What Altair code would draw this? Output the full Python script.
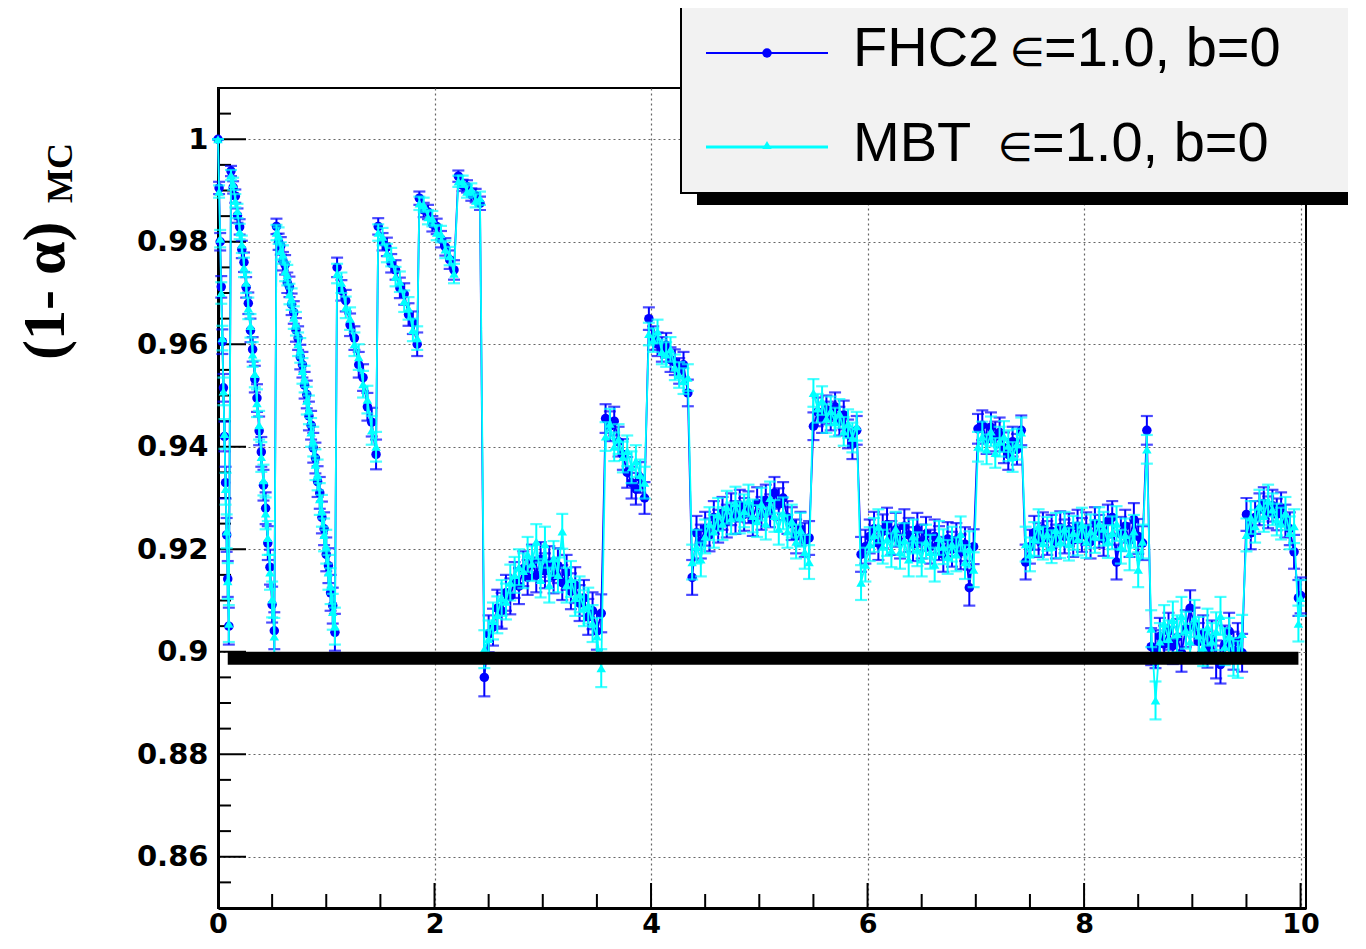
import altair as alt
import pandas as pd

# ---------------- data ----------------
# true signal mean (x), one row per MC point
s_true = [
    0.00, 0.01, 0.02, 0.03, 0.04, 0.05, 0.06, 0.07, 0.08, 0.09, 0.10,
    0.12, 0.14, 0.16, 0.18, 0.20, 0.22, 0.24, 0.26, 0.28, 0.30, 0.32, 0.34, 0.36, 0.38, 0.40, 0.42, 0.44, 0.46, 0.48, 0.50, 0.52,
    0.54, 0.56, 0.58, 0.60, 0.62, 0.64, 0.66, 0.68, 0.70, 0.72, 0.74, 0.76, 0.78, 0.80, 0.82, 0.84, 0.86, 0.88, 0.90, 0.92, 0.94, 0.96, 0.98, 1.00, 1.02, 1.04, 1.06, 1.08,
    1.10, 1.14, 1.18, 1.22, 1.26, 1.30, 1.34, 1.38, 1.42, 1.46,
    1.48, 1.52, 1.56, 1.60, 1.64, 1.68, 1.72, 1.76, 1.80, 1.84,
    1.86, 1.90, 1.94, 1.98, 2.02, 2.06, 2.10, 2.14, 2.18,
    2.22, 2.26, 2.30, 2.34, 2.38, 2.42,
    2.46, 2.50, 2.54, 2.58, 2.62, 2.66, 2.70, 2.74, 2.78, 2.82, 2.86, 2.90, 2.94, 2.98, 3.02, 3.06, 3.10, 3.14, 3.18, 3.22, 3.26, 3.30, 3.34, 3.38, 3.42, 3.46, 3.50, 3.54,
    3.58, 3.62, 3.66, 3.70, 3.74, 3.78, 3.82, 3.86, 3.90, 3.94,
    3.98, 4.02, 4.06, 4.10, 4.14, 4.18, 4.22, 4.26, 4.30, 4.34,
    4.38, 4.42, 4.46, 4.50, 4.54, 4.58, 4.62, 4.66, 4.70, 4.74, 4.78, 4.82, 4.86, 4.90, 4.94, 4.98, 5.02, 5.06, 5.10, 5.14, 5.18, 5.22, 5.26, 5.30, 5.34, 5.38, 5.42, 5.46,
    5.50, 5.54, 5.58, 5.62, 5.66, 5.70, 5.74, 5.78, 5.82, 5.86, 5.90,
    5.94, 5.98, 6.02, 6.06, 6.10, 6.14, 6.18, 6.22, 6.26, 6.30, 6.34, 6.38, 6.42, 6.46, 6.50, 6.54, 6.58, 6.62, 6.66, 6.70, 6.74, 6.78, 6.82, 6.86, 6.90, 6.94, 6.98,
    7.02, 7.06, 7.10, 7.14, 7.18, 7.22, 7.26, 7.30, 7.34, 7.38, 7.42,
    7.46, 7.50, 7.54, 7.58, 7.62, 7.66, 7.70, 7.74, 7.78, 7.82, 7.86, 7.90, 7.94, 7.98, 8.02, 8.06, 8.10, 8.14, 8.18, 8.22, 8.26, 8.30, 8.34, 8.38, 8.42, 8.46, 8.50, 8.54,
    8.58,
    8.62, 8.66, 8.70, 8.74, 8.78, 8.82, 8.86, 8.90, 8.94, 8.98, 9.02, 9.06, 9.10, 9.14, 9.18, 9.22, 9.26, 9.30, 9.34, 9.38, 9.42, 9.46,
    9.50, 9.54, 9.58, 9.62, 9.66, 9.70, 9.74, 9.78, 9.82, 9.86, 9.90, 9.94,
    9.98, 10.00,
]

# (1-alpha)_MC for FHC2
fhc2 = [
    1.0000, 0.9905, 0.9800, 0.9712, 0.9605, 0.9515, 0.9420, 0.9330, 0.9228, 0.9142, 0.9050,
    0.9938, 0.9906, 0.9889, 0.9851, 0.9829, 0.9785, 0.9760, 0.9711, 0.9680, 0.9627, 0.9590, 0.9532, 0.9495, 0.9431, 0.9390, 0.9325, 0.9280, 0.9212, 0.9165, 0.9092, 0.9041,
    0.9830, 0.9800, 0.9792, 0.9762, 0.9755, 0.9720, 0.9712, 0.9678, 0.9662, 0.9628, 0.9612, 0.9575, 0.9560, 0.9520, 0.9502, 0.9460, 0.9442, 0.9398, 0.9378, 0.9332, 0.9310, 0.9262, 0.9240, 0.9190, 0.9168, 0.9115, 0.9090, 0.9038,
    0.9750, 0.9705, 0.9685, 0.9638, 0.9612, 0.9560, 0.9535, 0.9478, 0.9448, 0.9385,
    0.9830, 0.9800, 0.9790, 0.9758, 0.9745, 0.9710, 0.9698, 0.9658, 0.9642, 0.9600,
    0.9885, 0.9862, 0.9858, 0.9835, 0.9830, 0.9805, 0.9790, 0.9765, 0.9745,
    0.9928, 0.9910, 0.9908, 0.9892, 0.9890, 0.9875,
    0.8950, 0.9035, 0.9048, 0.9085, 0.9080, 0.9115, 0.9108, 0.9140, 0.9128, 0.9162, 0.9145, 0.9175, 0.9150, 0.9180, 0.9158, 0.9172, 0.9148, 0.9168, 0.9135, 0.9155, 0.9118, 0.9130, 0.9095, 0.9105, 0.9068, 0.9080, 0.9040, 0.9075,
    0.9455, 0.9440, 0.9450, 0.9410, 0.9385, 0.9350, 0.9330, 0.9318, 0.9340, 0.9300,
    0.9650, 0.9612, 0.9600, 0.9590, 0.9598, 0.9570, 0.9565, 0.9548, 0.9560, 0.9505,
    0.9145, 0.9232, 0.9215, 0.9240, 0.9228, 0.9262, 0.9245, 0.9270, 0.9255, 0.9278, 0.9262, 0.9285, 0.9268, 0.9282, 0.9258, 0.9290, 0.9270, 0.9295, 0.9275, 0.9310, 0.9288, 0.9300, 0.9262, 0.9250, 0.9225, 0.9240, 0.9218, 0.9222,
    0.9440, 0.9468, 0.9455, 0.9472, 0.9460, 0.9478, 0.9450, 0.9462, 0.9425, 0.9405, 0.9432,
    0.9190, 0.9205, 0.9225, 0.9240, 0.9212, 0.9235, 0.9248, 0.9222, 0.9238, 0.9215, 0.9245, 0.9228, 0.9210, 0.9238, 0.9215, 0.9230, 0.9205, 0.9225, 0.9212, 0.9190, 0.9220, 0.9200, 0.9218, 0.9195, 0.9210, 0.9125, 0.9205,
    0.9435, 0.9442, 0.9415, 0.9438, 0.9420, 0.9428, 0.9398, 0.9385, 0.9410, 0.9395, 0.9432,
    0.9175, 0.9205, 0.9232, 0.9218, 0.9240, 0.9222, 0.9235, 0.9215, 0.9242, 0.9225, 0.9238, 0.9218, 0.9245, 0.9228, 0.9240, 0.9215, 0.9250, 0.9235, 0.9220, 0.9255, 0.9262, 0.9175, 0.9230, 0.9245, 0.9218, 0.9258, 0.9225, 0.9212,
    0.9432,
    0.9010, 0.9005, 0.9030, 0.9015, 0.9040, 0.9012, 0.9028, 0.8998, 0.9045, 0.9085, 0.9050, 0.9020, 0.9035, 0.9005, 0.9025, 0.8985, 0.8975, 0.9015, 0.9040, 0.9002, 0.9020, 0.8998,
    0.9268, 0.9232, 0.9262, 0.9278, 0.9290, 0.9272, 0.9285, 0.9268, 0.9280, 0.9255, 0.9240, 0.9195,
    0.9105, 0.9110,
]

# (1-alpha)_MC for MBT
mbt = [
    1.0000, 0.9898, 0.9806, 0.9700, 0.9612, 0.9508, 0.9425, 0.9318, 0.9235, 0.9138, 0.9055,
    0.9930, 0.9913, 0.9880, 0.9860, 0.9820, 0.9795, 0.9750, 0.9720, 0.9670, 0.9636, 0.9580, 0.9542, 0.9485, 0.9442, 0.9380, 0.9335, 0.9270, 0.9222, 0.9155, 0.9102, 0.9030,
    0.9818, 0.9812, 0.9782, 0.9775, 0.9742, 0.9735, 0.9698, 0.9688, 0.9652, 0.9640, 0.9600, 0.9588, 0.9548, 0.9532, 0.9490, 0.9472, 0.9428, 0.9410, 0.9365, 0.9345, 0.9298, 0.9275, 0.9228, 0.9205, 0.9155, 0.9128, 0.9078, 0.9050,
    0.9738, 0.9720, 0.9672, 0.9650, 0.9600, 0.9575, 0.9522, 0.9492, 0.9432, 0.9400,
    0.9818, 0.9810, 0.9778, 0.9770, 0.9732, 0.9722, 0.9684, 0.9670, 0.9628, 0.9612,
    0.9875, 0.9872, 0.9848, 0.9845, 0.9818, 0.9815, 0.9785, 0.9772, 0.9738,
    0.9918, 0.9918, 0.9898, 0.9902, 0.9880, 0.9885,
    0.9005, 0.9025, 0.9060, 0.9072, 0.9105, 0.9098, 0.9135, 0.9150, 0.9165, 0.9158, 0.9190, 0.9172, 0.9215, 0.9140, 0.9210, 0.9130, 0.9182, 0.9150, 0.9235, 0.9130, 0.9142, 0.9105, 0.9112, 0.9085, 0.9090, 0.9055, 0.9030, 0.8968,
    0.9420, 0.9445, 0.9400, 0.9415, 0.9380, 0.9392, 0.9360, 0.9372, 0.9345, 0.9330,
    0.9620, 0.9608, 0.9625, 0.9585, 0.9580, 0.9590, 0.9555, 0.9540, 0.9528, 0.9535,
    0.9175, 0.9205, 0.9180, 0.9225, 0.9250, 0.9235, 0.9268, 0.9250, 0.9282, 0.9260, 0.9290, 0.9262, 0.9275, 0.9295, 0.9265, 0.9255, 0.9288, 0.9250, 0.9300, 0.9265, 0.9240, 0.9270, 0.9235, 0.9255, 0.9215, 0.9238, 0.9195, 0.9175,
    0.9505, 0.9475, 0.9490, 0.9455, 0.9470, 0.9448, 0.9465, 0.9430, 0.9445, 0.9418, 0.9440,
    0.9135, 0.9170, 0.9210, 0.9228, 0.9245, 0.9205, 0.9220, 0.9198, 0.9240, 0.9195, 0.9218, 0.9180, 0.9225, 0.9200, 0.9180, 0.9215, 0.9195, 0.9170, 0.9222, 0.9205, 0.9185, 0.9210, 0.9190, 0.9230, 0.9175, 0.9200, 0.9160,
    0.9400, 0.9420, 0.9395, 0.9430, 0.9388, 0.9410, 0.9420, 0.9402, 0.9380, 0.9405, 0.9428,
    0.9210, 0.9190, 0.9220, 0.9245, 0.9212, 0.9230, 0.9205, 0.9238, 0.9215, 0.9240, 0.9210, 0.9232, 0.9220, 0.9248, 0.9215, 0.9235, 0.9225, 0.9250, 0.9240, 0.9215, 0.9232, 0.9250, 0.9205, 0.9228, 0.9192, 0.9235, 0.9160, 0.9215,
    0.9395,
    0.9045, 0.8905, 0.9020, 0.9055, 0.9025, 0.9062, 0.9035, 0.9070, 0.9042, 0.9020, 0.9065, 0.9032, 0.9008, 0.9048, 0.9020, 0.9040, 0.9070, 0.9010, 0.9030, 0.8990, 0.8985, 0.9035,
    0.9228, 0.9262, 0.9245, 0.9285, 0.9265, 0.9295, 0.9278, 0.9258, 0.9250, 0.9270, 0.9232, 0.9245,
    0.9055, 0.9105,
]

# half-length of the error bars, in units of 1e-4
err_e4 = [
    0, 12, 17, 21, 24, 27, 29, 31, 33, 35, 36,
    10, 12, 13, 14, 15, 17, 19, 20, 21, 23, 24, 26, 27, 28, 29, 30, 31, 33, 34, 35, 36,
    15, 16, 17, 18, 19, 20, 20, 21, 22, 23, 23, 24, 25, 26, 27, 28, 28, 29, 30, 30, 31, 31, 32, 33, 34, 35, 35, 36,
    19, 20, 21, 22, 23, 25, 26, 27, 28, 29,
    16, 17, 18, 18, 19, 20, 21, 22, 22, 23,
    13, 14, 14, 15, 15, 16, 17, 18, 19,
    11, 11, 12, 12, 13, 13,
    37, 36, 36, 36, 35, 35, 35, 35, 35, 34, 34, 34, 34, 34, 34, 34, 34, 34, 34, 34, 35, 35, 35, 35, 35, 36, 36, 37,
    28, 29, 28, 29, 30, 30, 31, 31, 30, 31,
    22, 23, 23, 24, 24, 24, 25, 25, 25, 26,
    34, 33, 33, 33, 32, 32, 32, 32, 32, 31, 32, 31, 32, 31, 32, 31, 32, 31, 32, 31, 31, 31, 32, 32, 33, 33, 33, 33,
    27, 28, 28, 28, 28, 28, 28, 28, 28, 29, 28,
    34, 33, 33, 33, 33, 33, 33, 33, 33, 33, 33, 33, 33, 33, 33, 33, 33, 33, 33, 34, 33, 34, 33, 34, 33, 35, 34,
    29, 29, 29, 29, 29, 29, 30, 30, 29, 30, 29,
    34, 33, 33, 33, 32, 33, 32, 33, 32, 33, 32, 33, 32, 33, 32, 33, 32, 32, 33, 32, 32, 34, 33, 32, 33, 32, 34, 33,
    28,
    36, 37, 36, 36, 36, 36, 36, 37, 36, 35, 36, 36, 36, 36, 36, 37, 37, 36, 36, 37, 36, 37,
    32, 32, 32, 31, 31, 31, 31, 31, 31, 32, 32, 33,
    35, 35,
]

# axis ticks
x_tick_values = [0, 2, 4, 6, 8, 10]
x_minor_ticks = [0.5, 1, 1.5, 2.5, 3, 3.5, 4.5, 5, 5.5, 6.5, 7, 7.5, 8.5, 9, 9.5]
y_tick_values = [0.86, 0.88, 0.90, 0.92, 0.94, 0.96, 0.98, 1.00]
y_minor_ticks = [0.855, 0.865, 0.87, 0.875, 0.885, 0.89, 0.895, 0.905, 0.91, 0.915,
                 0.925, 0.93, 0.935, 0.945, 0.95, 0.955, 0.965, 0.97, 0.975, 0.985,
                 0.99, 0.995, 1.005]

# 90% reference line
ref_level = 0.90
ref_x_start = 0.09
ref_x_end = 9.98

# texts (legend entries split into name / symbol / rest, as drawn in the reference)
legend_names = ["FHC2", "MBT"]
legend_symbol = "\u2208"
legend_rest = "=1.0, b=0"
y_title_main = "(1- \u03b1)"
y_title_sub = "MC"

# ---------------- chart ----------------
n = len(s_true)
for name, arr in (("fhc2", fhc2), ("mbt", mbt), ("err_e4", err_e4)):
    if len(arr) != n:
        raise ValueError(f"{name} has {len(arr)} values, expected {n}")

BLUE = "#0000ff"
CYAN = "#00ffff"
W, H = 1088, 820
xscale = alt.Scale(domain=[0, 10.05], nice=False, zero=False)
yscale = alt.Scale(domain=[0.85, 1.01], nice=False, zero=False)

axis_common = dict(
    domain=True, domainColor="black", domainWidth=3, ticks=False,
    grid=True, gridColor="#666666", gridDash=[2, 3], gridWidth=1.2,
    labelFont="DejaVu Sans", labelFontWeight="bold",
    labelColor="black", labelFlush=False,
)
x_axis = alt.Axis(values=x_tick_values, format="d", labelPadding=3, labelFontSize=27, **axis_common)
y_axis = alt.Axis(values=y_tick_values, format="~g", labelPadding=10, labelFontSize=29, **axis_common)


def X(field):
    return alt.X(f"{field}:Q", scale=xscale, axis=x_axis, title=None)


def Y(field):
    return alt.Y(f"{field}:Q", scale=yscale, axis=y_axis, title=None)


def series_df(vals):
    err = [e * 1e-4 for e in err_e4]
    return pd.DataFrame({
        "s": s_true,
        "val": vals,
        "lo": [v - e for v, e in zip(vals, err)],
        "hi": [v + e for v, e in zip(vals, err)],
    })


def series_layers(vals, color, shape, size):
    d = alt.Chart(series_df(vals))
    return [
        d.mark_rule(color=color, strokeWidth=2).encode(x=X("s"), y=Y("lo"), y2=alt.Y2("hi")),
        d.mark_tick(color=color, orient="horizontal", size=12, thickness=2.2).encode(x=X("s"), y=Y("lo")),
        d.mark_tick(color=color, orient="horizontal", size=12, thickness=2.2).encode(x=X("s"), y=Y("hi")),
        d.mark_line(color=color, strokeWidth=1.8).encode(x=X("s"), y=Y("val")),
        d.mark_point(shape=shape, filled=True, size=size, color=color, opacity=1,
                     strokeWidth=0).encode(x=X("s"), y=Y("val")),
    ]


# ticks (drawn inside the frame, ROOT style)
xt_major = alt.Chart(pd.DataFrame({"t": x_tick_values})).mark_rule(
    color="black", strokeWidth=2).encode(x=X("t"), y=alt.value(H), y2=alt.value(H - 25))
xt_minor = alt.Chart(pd.DataFrame({"t": x_minor_ticks})).mark_rule(
    color="black", strokeWidth=2).encode(x=X("t"), y=alt.value(H), y2=alt.value(H - 14))
yt_major = alt.Chart(pd.DataFrame({"t": y_tick_values})).mark_rule(
    color="black", strokeWidth=2).encode(y=Y("t"), x=alt.value(0), x2=alt.value(28))
yt_minor = alt.Chart(pd.DataFrame({"t": y_minor_ticks})).mark_rule(
    color="black", strokeWidth=2).encode(y=Y("t"), x=alt.value(0), x2=alt.value(13))

ref_line = alt.Chart(pd.DataFrame({"x0": [ref_x_start], "x1": [ref_x_end], "y": [ref_level]})).mark_rule(
    color="black", strokeWidth=13, yOffset=6.5, strokeCap="butt").encode(
    x=X("x0"), x2=alt.X2("x1"), y=Y("y"))

one = alt.Chart(pd.DataFrame({"k": [0]}))


def legend_text(txt, x, y, size, font="Liberation Sans"):
    return one.mark_text(align="left", baseline="alphabetic", font=font, fontSize=size,
                         color="black").encode(x=alt.value(x), y=alt.value(y), text=alt.value(txt))


legend_layers = [
    one.mark_rect(color="black").encode(x=alt.value(479), x2=alt.value(1200),
                                        y=alt.value(-71), y2=alt.value(117)),
    one.mark_rect(fill="#f2f2f2", stroke="black", strokeWidth=2).encode(
        x=alt.value(463), x2=alt.value(1200), y=alt.value(-83), y2=alt.value(105)),
    one.mark_rule(color=BLUE, strokeWidth=2).encode(x=alt.value(488), x2=alt.value(610), y=alt.value(-35)),
    one.mark_point(shape="circle", filled=True, size=90, color=BLUE, opacity=1).encode(
        x=alt.value(549), y=alt.value(-35)),
    one.mark_rule(color=CYAN, strokeWidth=3).encode(x=alt.value(488), x2=alt.value(610), y=alt.value(59)),
    one.mark_point(shape="triangle-up", filled=True, size=90, color=CYAN, opacity=1).encode(
        x=alt.value(549), y=alt.value(57)),
    legend_text(legend_names[0], 635, -22, 56),
    legend_text(legend_symbol, 792, -22, 40, font="DejaVu Sans"),
    legend_text(legend_rest, 826, -22, 56),
    legend_text(legend_names[1], 635, 73, 56),
    legend_text(legend_symbol, 780, 73, 40, font="DejaVu Sans"),
    legend_text(legend_rest, 814, 73, 56),
]

title_layers = [
    one.mark_text(angle=270, align="left", baseline="alphabetic", font="Liberation Serif",
                  fontWeight="bold", fontSize=60, color="black").encode(
        x=alt.value(-154), y=alt.value(272), text=alt.value(y_title_main)),
    one.mark_text(angle=270, align="left", baseline="alphabetic", font="Liberation Serif",
                  fontWeight="bold", fontSize=36, color="black").encode(
        x=alt.value(-146), y=alt.value(115), text=alt.value(y_title_sub)),
]

layers = ([xt_major, xt_minor, yt_major, yt_minor]
          + series_layers(fhc2, BLUE, "circle", 90)
          + series_layers(mbt, CYAN, "triangle-up", 90)
          + [ref_line] + legend_layers + title_layers)

chart = alt.layer(*layers).properties(
    width=W, height=H,
    padding={"left": 210, "top": 80, "right": 42, "bottom": 33},
    autosize=alt.AutoSizeParams(type="none"),
    background="white",
).configure_view(stroke="black", strokeWidth=2)

chart.save("out.html", embed_options={"renderer": "svg", "actions": False})
